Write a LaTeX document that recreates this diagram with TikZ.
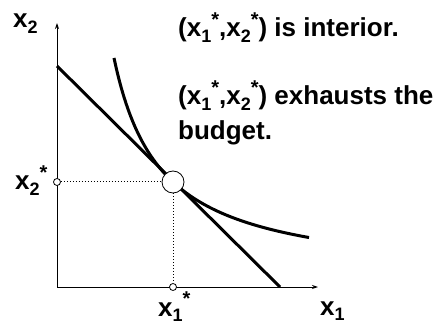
\documentclass[tikz,border=0pt]{standalone}
\usepackage{fontspec}
\setmainfont{Liberation Sans}
\usetikzlibrary{arrows.meta,calc,positioning}
\newcommand{\xsub}[1]{x\raisebox{-0.22em}{\fontsize{18}{18}\selectfont #1}}
\newcommand{\xstar}[1]{\xsub{#1}\raisebox{0.42em}{\fontsize{20}{20}\selectfont *}}

\begin{document}
\begin{tikzpicture}[x=1pt, y=1pt, font=\fontsize{26}{35}\selectfont\bfseries]
  \useasboundingbox (-57,-39) rectangle (386,287);

  % Axes
  \coordinate (O) at (0,0);
  \coordinate (ytop) at (0,264);
  \coordinate (xend) at (261,0);
  \draw[-{Stealth[length=6pt, width=4pt]}, line width=1pt] (O) -- (ytop);
  \draw[-{Stealth[length=6pt, width=4pt]}, line width=1pt] (O) -- (xend);
  \node[anchor=base west, inner sep=0pt] (lblx2) at (-44,259) {\xsub{2}};
  \node[anchor=base west, inner sep=0pt] (lblx1) at (263,-28) {\xsub{1}};

  % Budget line
  \coordinate (bY) at (0,221);
  \coordinate (bX) at (223,0);
  \draw[line width=3pt] (bY) -- (bX);

  % Indifference curve
  \draw[line width=3pt] plot[domain=57:252, samples=80, smooth] (\x, {6.2+10473/(\x-10)});

  % Optimum and its coordinates
  \node[circle, draw, fill=white, line width=0.8pt, inner sep=0pt, minimum size=22pt] (opt) at (116,105) {};
  \node[circle, draw, fill=white, line width=0.8pt, inner sep=0pt, minimum size=7pt] (x2s) at (0,105) {};
  \node[circle, draw, fill=white, line width=0.8pt, inner sep=0pt, minimum size=7pt] (x1s) at (116,0) {};
  \draw[dotted, line width=1pt] (x2s) -- (opt);
  \draw[dotted, line width=1pt] (opt) -- (x1s);
  \node[anchor=base west, inner sep=0pt] (lblx2s) at (-42,97) {\xstar{2}};
  \node[anchor=base west, inner sep=0pt] (lblx1s) at (101,-29) {\xstar{1}};

  % Statements
  \node[anchor=base west, inner sep=0pt] (interior) at (121,250) {(\xstar{1},\xstar{2}) is interior.};
  \node[anchor=base west, inner sep=0pt, align=left] (budget) at (121,147)
    {(\xstar{1},\xstar{2}) exhausts the\\budget.};
\end{tikzpicture}
\end{document}
